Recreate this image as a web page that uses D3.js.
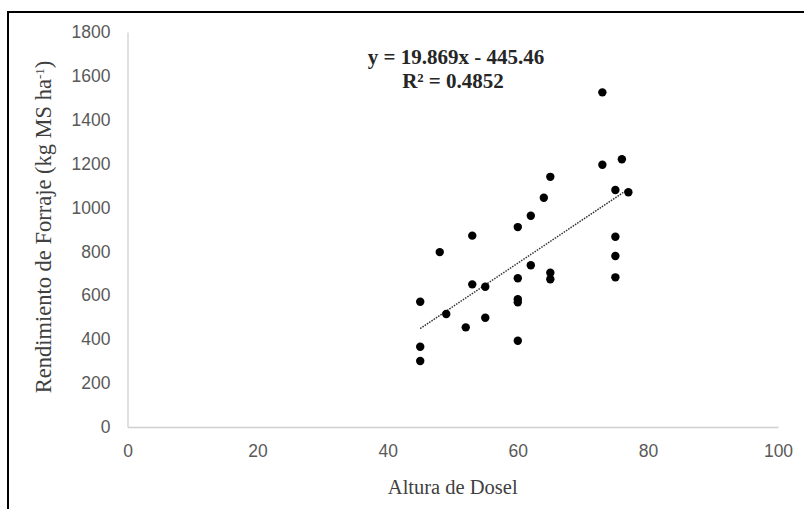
<!DOCTYPE html>
<html>
<head>
<meta charset="utf-8">
<script src="https://cdn.jsdelivr.net/npm/d3@7"></script>
<style>
  body { margin: 0; background: #fff; }
  svg { display: block; }
</style>
</head>
<body>
<div id="chart"></div>
<script>
// data
const altura = [73, 73, 76, 65, 75, 77, 64, 62, 60, 53, 75, 48, 75, 62, 65, 65, 60, 75, 53, 55, 45, 60, 60, 49, 55, 52, 60, 45, 45];
const rendimiento = [1525, 1195, 1220, 1140, 1080, 1070, 1045, 963, 911, 872, 867, 797, 779, 737, 703, 673, 678, 682, 650, 639, 571, 582, 568, 515, 498, 454, 393, 366, 301];
const xTicks = [0, 20, 40, 60, 80, 100];
const yTicks = [0, 200, 400, 600, 800, 1000, 1200, 1400, 1600, 1800];
// trend line as printed on the chart
const slope = 19.869, intercept = -445.46, r2 = 0.4852;

const width = 804, height = 509;
const margin = { left: 127.5, right: 26, top: 32, bottom: 82 };

const svg = d3.select("#chart").append("svg")
  .attr("width", width)
  .attr("height", height);

// outer frame
svg.append("rect")
  .attr("x", 8).attr("y", 12)
  .attr("width", width).attr("height", height)
  .attr("fill", "none")
  .attr("stroke", "#000")
  .attr("stroke-width", 2);

const x = d3.scaleLinear().domain([0, 100]).range([margin.left, width - margin.right]);
const y = d3.scaleLinear().domain([0, 1800]).range([height - margin.bottom, margin.top]);

// axes
const xAxis = svg.append("g")
  .attr("transform", "translate(0," + y(0) + ")")
  .call(d3.axisBottom(x).tickValues(xTicks).tickFormat(d3.format("d")).tickSize(0).tickPadding(18));
const yAxis = svg.append("g")
  .attr("transform", "translate(" + x(0) + ",0)")
  .call(d3.axisLeft(y).tickValues(yTicks).tickFormat(d3.format("d")).tickSize(0).tickPadding(17));

[xAxis, yAxis].forEach(a => {
  a.select(".domain").attr("stroke", "#d0d0d0").attr("stroke-width", 1.3);
  a.selectAll("text")
    .attr("fill", "#595959")
    .style("font-family", "'Liberation Sans', Arial, sans-serif")
    .style("font-size", "17.5px");
});

// trend line
const xExt = d3.extent(altura);
const trend = xExt.map(v => [v, slope * v + intercept]);
svg.append("path")
  .datum(trend)
  .attr("d", d3.line().x(d => x(d[0])).y(d => y(d[1])))
  .attr("stroke", "#333")
  .attr("stroke-width", 1.5)
  .attr("stroke-dasharray", "1.5,1.2")
  .attr("fill", "none");

// points
svg.append("g").selectAll("circle")
  .data(altura.map((v, i) => [v, rendimiento[i]]))
  .enter().append("circle")
  .attr("cx", d => x(d[0]))
  .attr("cy", d => y(d[1]))
  .attr("r", 4.2)
  .attr("fill", "#000");

// equation
const eq = svg.append("text")
  .attr("text-anchor", "middle")
  .style("font-family", "'Liberation Serif', 'Times New Roman', serif")
  .style("font-weight", "bold")
  .style("font-size", "21px")
  .attr("fill", "#262626");
eq.append("tspan").attr("x", 456).attr("y", 64)
  .text("y = " + slope + "x - " + Math.abs(intercept));
eq.append("tspan").attr("x", 453).attr("y", 88)
  .text("R\u00b2 = " + r2);

// axis titles
svg.append("text")
  .attr("x", (x(0) + x(100)) / 2)
  .attr("y", 494)
  .attr("text-anchor", "middle")
  .attr("fill", "#404040")
  .style("font-family", "'Liberation Serif', 'Times New Roman', serif")
  .style("font-size", "20.5px")
  .text("Altura de Dosel");

const yt = svg.append("text")
  .attr("transform", "translate(51,227) rotate(-90)")
  .attr("text-anchor", "middle")
  .attr("fill", "#404040")
  .style("font-family", "'Liberation Serif', 'Times New Roman', serif")
  .style("font-size", "22.5px");
yt.append("tspan").text("Rendimiento de Forraje (kg MS ha");
yt.append("tspan").attr("baseline-shift", "super").style("font-size", "13px").text("-1");
yt.append("tspan").text(")");
</script>
</body>
</html>
